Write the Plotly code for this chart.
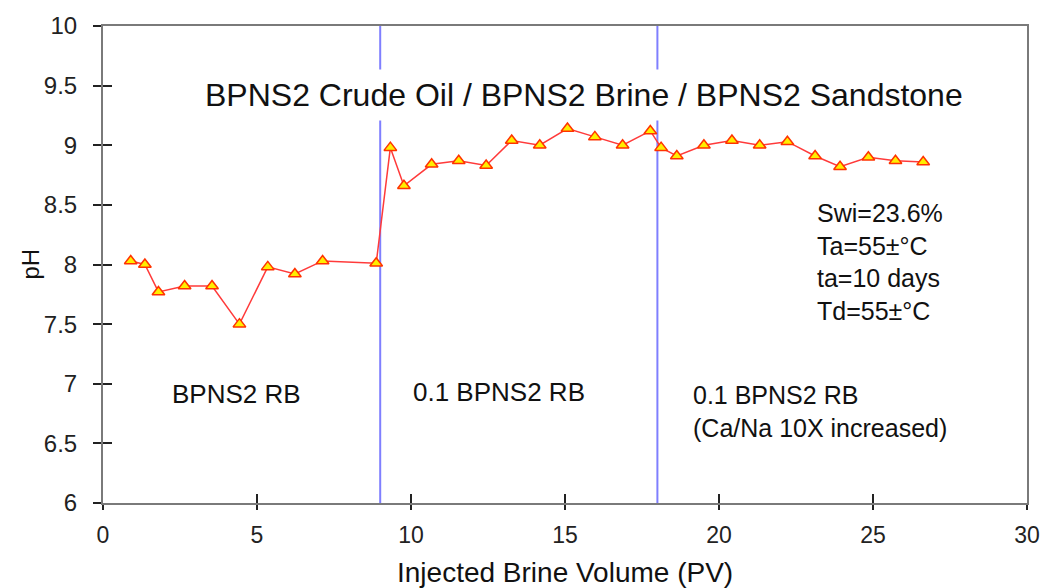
import plotly.graph_objects as go

# Data
pv = [0.90, 1.36, 1.80, 2.65, 3.54, 4.43, 5.35, 6.23, 7.13, 8.87,
      9.33, 9.77, 10.67, 11.55, 12.44, 13.27, 14.18, 15.08, 15.97, 16.87,
      17.77, 18.12, 18.63, 19.51, 20.42, 21.32, 22.22, 23.12, 23.93, 24.85,
      25.73, 26.63]
ph = [8.03, 8.00, 7.77, 7.82, 7.82, 7.50, 7.98, 7.92, 8.03, 8.01,
      8.98, 8.66, 8.84, 8.87, 8.83, 9.04, 9.00, 9.14, 9.07, 9.00,
      9.12, 8.98, 8.91, 9.00, 9.04, 9.00, 9.03, 8.91, 8.82, 8.90,
      8.87, 8.86]
stage_boundaries = [9, 18]
x_ticks = [0, 5, 10, 15, 20, 25, 30]
y_ticks = [6, 6.5, 7, 7.5, 8, 8.5, 9, 9.5, 10]
y_tick_text = ["6", "6.5", "7", "7.5", "8", "8.5", "9", "9.5", "10"]
conditions = ["Swi=23.6%", "Ta=55±°C", "ta=10 days", "Td=55±°C"]

FONT = "Liberation Sans, Arial, sans-serif"
AX = "#7a7a7a"

fig = go.Figure()
fig.add_trace(go.Scatter(
    x=pv, y=ph, mode="lines+markers",
    line=dict(color="#ff3a3a", width=1.5),
    marker=dict(symbol="triangle-up", size=11, color="#ffee00",
                line=dict(color="#ff3300", width=1.5)),
    showlegend=False, hoverinfo="x+y"))
# invisible trace on overlay axes to enable the inside ticks
fig.add_trace(go.Scatter(x=[0, 30], y=[6, 10], mode="markers",
                         marker=dict(opacity=0), xaxis="x2", yaxis="y2",
                         showlegend=False, hoverinfo="skip"))

for b in stage_boundaries:
    fig.add_shape(type="line", x0=b, x1=b, y0=6, y1=10, xref="x", yref="y",
                  line=dict(color="#7f7fff", width=2), layer="below")

common_x = dict(range=[0, 30], tickvals=x_ticks, ticklen=5, tickwidth=1.5,
                tickcolor="#222", showgrid=False, zeroline=False)
common_y = dict(range=[6, 10], tickvals=y_ticks, ticktext=y_tick_text,
                ticklen=8, tickwidth=1.5, tickcolor="#222", showgrid=False,
                zeroline=False)

fig.update_layout(
    width=1052, height=588,
    margin=dict(l=103, r=19, t=18, b=85),
    paper_bgcolor="white", plot_bgcolor="white",
    font=dict(family=FONT, color="#111"),
    xaxis=dict(**common_x, ticks="outside", showline=True, linecolor=AX,
               linewidth=2, mirror=True,
               tickfont=dict(size=23, color="#222"), ticklabelstandoff=5),
    yaxis=dict(**common_y, ticks="outside", showline=True, linecolor=AX,
               linewidth=2, mirror=True,
               tickfont=dict(size=24, color="#222"), ticklabelstandoff=11),
    xaxis2=dict(**{**common_x, "ticklen": 9}, ticks="inside", overlaying="x",
                showticklabels=False, showline=False),
    yaxis2=dict(**{**common_y, "ticklen": 9}, ticks="inside", overlaying="y",
                showticklabels=False, showline=False),
)

ann_font = dict(family=FONT, size=26, color="#111")
fig.add_annotation(x=15.61, y=9.42, xref="x", yref="y",
                   text="BPNS2 Crude Oil / BPNS2 Brine / BPNS2 Sandstone",
                   showarrow=False, font=dict(family=FONT, size=32, color="#111"),
                   bgcolor="white", borderpad=7)
fig.add_annotation(x=2.16, y=6.91, xref="x", yref="y", text="BPNS2 RB",
                   showarrow=False, xanchor="left", font=ann_font)
fig.add_annotation(x=10.0, y=6.93, xref="x", yref="y", text="0.1 BPNS2 RB",
                   showarrow=False, xanchor="left", font=ann_font)
fig.add_annotation(x=19.1, y=6.77, xref="x", yref="y",
                   text="0.1 BPNS2 RB<br>(Ca/Na 10X increased)",
                   showarrow=False, xanchor="left", align="left",
                   font=dict(family=FONT, size=25, color="#111"))
fig.add_annotation(x=23.13, y=8.02, xref="x", yref="y",
                   text="<br>".join(conditions),
                   showarrow=False, xanchor="left", align="left",
                   font=dict(family=FONT, size=25, color="#111"))
# axis titles
fig.add_annotation(x=0.5, y=0, xref="paper", yref="paper",
                   text="Injected Brine Volume (PV)", showarrow=False,
                   yanchor="middle", yshift=-69,
                   font=dict(family=FONT, size=28, color="#111"))
fig.add_annotation(x=0, y=0.5, xref="paper", yref="paper", text="pH",
                   showarrow=False, textangle=-90, xanchor="center",
                   xshift=-73, font=dict(family=FONT, size=24, color="#111"))

fig.write_html("out.html")
